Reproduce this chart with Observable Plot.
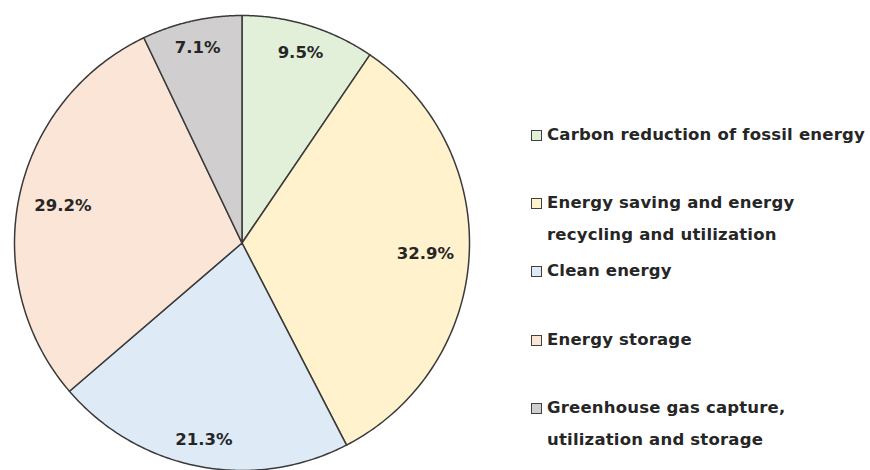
<!DOCTYPE html>
<html>
<head>
<meta charset="utf-8">
<script src="https://cdn.jsdelivr.net/npm/d3@7"></script>
<script src="https://cdn.jsdelivr.net/npm/@observablehq/plot@0.6"></script>
<style>
  html, body { margin: 0; padding: 0; background: #fff; }
  #wrap { position: relative; width: 870px; height: 470px; overflow: hidden; }
  #legend { position: absolute; left: 0; top: 0; width: 870px; height: 470px; pointer-events: none;
    font-family: "DejaVu Sans", sans-serif; font-weight: bold; font-size: 16.5px; letter-spacing: 0.2px; color: #262626; }
  .item { position: absolute; left: 531px; display: flex; align-items: flex-start; line-height: 32px; }
  .sw { width: 9px; height: 9px; border: 1.3px solid #404040; margin-top: 11px; margin-right: 5px; flex: none; }
</style>
</head>
<body>
<div id="wrap">
  <div id="chart"></div>
  <div id="legend"></div>
</div>
<script>
const categories = [
  "Carbon reduction of fossil energy",
  "Energy saving and energy recycling and utilization",
  "Clean energy",
  "Energy storage",
  "Greenhouse gas capture, utilization and storage"
];
const legendLines = [
  ["Carbon reduction of fossil energy"],
  ["Energy saving and energy", "recycling and utilization"],
  ["Clean energy"],
  ["Energy storage"],
  ["Greenhouse gas capture,", "utilization and storage"]
];
const shares = [9.5, 32.9, 21.3, 29.2, 7.1];
const colors = ["#e2efd9", "#fff2cc", "#deebf7", "#fbe5d6", "#d0cece"];

const arcs = d3.pie().sort(null).value(d => d)(shares);

// Build slice outlines from the pie angles
const polys = [];
arcs.forEach((a, i) => {
  const name = categories[i];
  polys.push({name, x: 0, y: 0});
  const n = 120;
  for (let k = 0; k <= n; k++) {
    const t = a.startAngle + (a.endAngle - a.startAngle) * k / n;
    polys.push({name, x: Math.sin(t), y: Math.cos(t)});
  }
});

// Labels placed "inside end": the text box is kept just inside the rim
const R = 227.5;
const fontSize = 16.5;
const labelData = arcs.map((a, i) => {
  const m = (a.startAngle + a.endAngle) / 2;
  const text = shares[i].toFixed(1) + "%";
  const halfW = text.length * 0.36 * fontSize;
  const halfH = 0.5 * fontSize;
  const rPx = 0.94 * R - (Math.abs(Math.sin(m)) * halfW + Math.abs(Math.cos(m)) * halfH);
  const r = rPx / R;
  return {name: categories[i], x: r * Math.sin(m), y: r * Math.cos(m), text};
});

const chart = Plot.plot({
  width: 870,
  height: 470,
  marginLeft: 14,
  marginRight: 401,
  marginTop: 15,
  marginBottom: 0,
  x: {domain: [-1, 1], axis: null},
  y: {domain: [-1, 1], axis: null},
  color: {domain: categories, range: colors},
  style: {background: "white"},
  marks: [
    Plot.line(polys, {x: "x", y: "y", z: "name", fill: "name", stroke: "#3a3a3a", strokeWidth: 1.5, curve: "linear-closed"}),
    Plot.text(labelData, {x: "x", y: "y", text: "text", fontFamily: "DejaVu Sans", fontWeight: "bold", fontSize: fontSize, fill: "#262626"})
  ]
});
document.getElementById("chart").appendChild(chart);

// Legend (HTML, to the right of the pie)
const itemTops = [119, 187, 255, 324, 392];
const legend = document.getElementById("legend");
categories.forEach((c, i) => {
  const it = document.createElement("div");
  it.className = "item";
  it.style.top = itemTops[i] + "px";
  const sw = document.createElement("div");
  sw.className = "sw";
  sw.style.background = colors[i];
  const tx = document.createElement("div");
  tx.innerHTML = legendLines[i].join("<br>");
  it.appendChild(sw);
  it.appendChild(tx);
  legend.appendChild(it);
});
</script>
</body>
</html>
